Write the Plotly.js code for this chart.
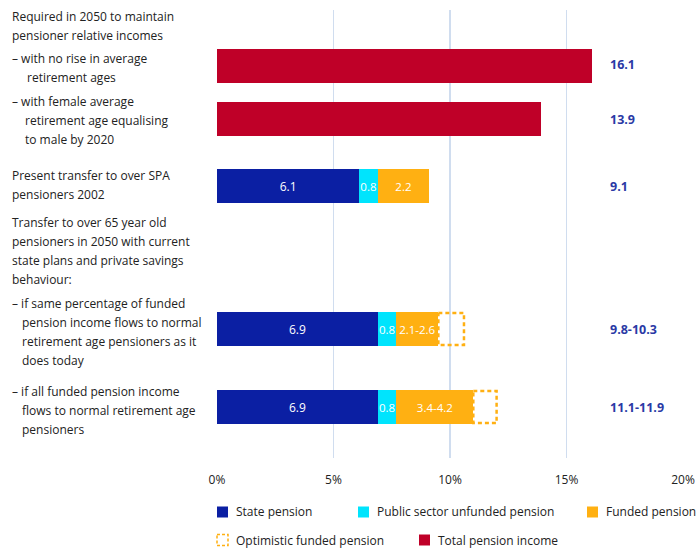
<!DOCTYPE html>
<html>
<head>
<meta charset="utf-8">
<script src="https://cdn.plot.ly/plotly-3.0.1.min.js"></script>
<style>html,body{margin:0;padding:0;background:#fff;}#chart{width:700px;height:551px;}</style>
</head>
<body>
<div id="chart"></div>
<script>
// ---- data ----
const rowLabels = [
  ["– with no rise in average", "retirement ages"],
  ["– with female average", "retirement age equalising", "to male by 2020"],
  ["Present transfer to over SPA", "pensioners 2002"],
  ["– if same percentage of funded", "pension income flows to normal", "retirement age pensioners as it", "does today"],
  ["– if all funded pension income", "flows to normal retirement age", "pensioners"]
];
const headerLabels = [
  ["Required in 2050 to maintain", "pensioner relative incomes"],
  ["Transfer to over 65 year old", "pensioners in 2050 with current", "state plans and private savings", "behaviour:"]
];
const statePension     = [null, null, 6.1, 6.9, 6.9];
const publicUnfunded   = [null, null, 0.8, 0.8, 0.8];
const fundedPension    = [null, null, 2.2, 1.8, 3.3];
const optimisticFunded = [null, null, null, 1.1, 1.0];
const totalIncome      = [16.1, 13.9, null, null, null];
const stateText   = ["", "", "6.1", "6.9", "6.9"];
const publicText  = ["", "", "0.8", "0.8", "0.8"];
const fundedText  = ["", "", "2.2", "2.1-2.6", "3.4-4.2"];
const totalLabels = ["16.1", "13.9", "9.1", "9.8-10.3", "11.1-11.9"];
const xTicks = [0, 5, 10, 15, 20];
const legendNames = ["State pension", "Public sector unfunded pension", "Funded pension", "Optimistic funded pension", "Total pension income"];

// ---- layout helpers ----
const W = 700, H = 551;
const M = {l: 217, r: 17, t: 10, b: 93};
const PW = W - M.l - M.r, PH = H - M.t - M.b;
const rowPos = [65.5, 119, 186, 329, 407];         // vertical centres (y axis in page px units)
const barH = 34;
const colors = {state: "#0b1fa3", pub: "#00e4fd", funded: "#ffb012", total: "#bf0028", value: "#2a39a5", text: "#222222", grid: "#d0ddef"};
const FONT = "Open Sans, Noto Sans, sans-serif";
const px2x = px => (px - M.l) / PW;
const py2y = py => (M.t + PH - py) / PH;

function barTrace(vals, txt, color, name, fs) {
  return {
    type: "bar", orientation: "h", name: name,
    y: rowPos, x: vals, width: barH,
    text: txt, textposition: "inside", insidetextanchor: "middle", textangle: 0,
    constraintext: "none",
    textfont: {color: "#ffffff", size: fs, family: FONT},
    marker: {color: color, line: {width: 0}},
    hoverinfo: "skip", showlegend: false, cliponaxis: false
  };
}

const traces = [
  barTrace(statePension, stateText, colors.state, legendNames[0], 12),
  barTrace(publicUnfunded, publicText, colors.pub, legendNames[1], 11.5),
  barTrace(fundedPension, fundedText, colors.funded, legendNames[2], 11.5),
  barTrace(totalIncome, totalLabels.map(() => ""), colors.total, legendNames[4], 12)
];

// optimistic dashed outline built from data
const ox = [], oy = [];
optimisticFunded.forEach((v, i) => {
  if (v == null) return;
  const b = (statePension[i] || 0) + (publicUnfunded[i] || 0) + (fundedPension[i] || 0);
  const y0 = rowPos[i] - barH / 2 + 1, y1 = rowPos[i] + barH / 2 - 1;
  ox.push(b, b + v, b + v, b, b, null);
  oy.push(y0, y0, y1, y1, y0, null);
});
traces.push({
  type: "scatter", mode: "lines", x: ox, y: oy, name: legendNames[3],
  line: {color: colors.funded, width: 2.5, dash: "4px,3px"},
  hoverinfo: "skip", showlegend: false, cliponaxis: false
});

const annotations = [];
const lineH = 19.3;
function addBlock(lines, topCenter, firstX, contX) {
  lines.forEach((t, k) => {
    annotations.push({
      xref: "paper", yref: "y", x: px2x(k === 0 ? firstX : contX), y: topCenter + k * lineH,
      text: t, showarrow: false, xanchor: "left", yanchor: "middle",
      font: {family: FONT, size: 12, color: colors.text}
    });
  });
}
addBlock(headerLabels[0], 16, 10, 10);
addBlock(headerLabels[1], 222, 10, 10);
const rowIndent = [25, 23, 10, 20, 20];
const rowTop = [58, 101, 175, 303, 391];
rowLabels.forEach((lines, i) => addBlock(lines, rowTop[i], 10, rowIndent[i]));
// totals at right
totalLabels.forEach((t, i) => {
  annotations.push({
    xref: "paper", yref: "y", x: px2x(608), y: rowPos[i] + (i === 0 ? -1 : 0),
    text: "<b>" + t + "</b>", showarrow: false, xanchor: "left", yanchor: "middle",
    font: {family: FONT, size: 12.5, color: colors.value}
  });
});

// manual legend
const shapes = [];
const legendItems = [
  {name: legendNames[0], col: colors.state, sx: 217, y: 512, dashed: false},
  {name: legendNames[1], col: colors.pub, sx: 358, y: 512, dashed: false},
  {name: legendNames[2], col: colors.funded, sx: 587, y: 512, dashed: false},
  {name: legendNames[3], col: colors.funded, sx: 217, y: 540, dashed: true},
  {name: legendNames[4], col: colors.total, sx: 419, y: 540, dashed: false}
];
legendItems.forEach(it => {
  const s = 11;
  shapes.push({
    type: "rect", xref: "paper", yref: "paper",
    x0: px2x(it.sx), x1: px2x(it.sx + s), y0: py2y(it.y - s / 2), y1: py2y(it.y + s / 2),
    fillcolor: it.dashed ? "rgba(0,0,0,0)" : it.col,
    line: it.dashed ? {color: it.col, width: 1.5, dash: "3px,2px"} : {width: 0}
  });
  annotations.push({
    xref: "paper", yref: "paper", x: px2x(it.sx + s + 6), y: py2y(it.y),
    text: it.name, showarrow: false, xanchor: "left", yanchor: "middle",
    font: {family: FONT, size: 12, color: colors.text}
  });
});

const layout = {
  width: W, height: H,
  margin: M,
  paper_bgcolor: "#ffffff", plot_bgcolor: "#ffffff",
  barmode: "stack", bargap: 0,
  showlegend: false, hovermode: false,
  xaxis: {
    range: [0, 20], tickvals: xTicks, ticktext: xTicks.map(v => v + "%"),
    showgrid: true, gridcolor: colors.grid, gridwidth: 1.2, zeroline: false,
    showline: false, ticks: "", ticklabelstandoff: 13,
    tickfont: {family: FONT, size: 12, color: colors.text}, fixedrange: true
  },
  yaxis: {
    range: [M.t + PH, M.t], showgrid: false, zeroline: false, showticklabels: false,
    showline: false, ticks: "", fixedrange: true
  },
  shapes: shapes,
  annotations: annotations,
  font: {family: FONT}
};

Plotly.newPlot("chart", traces, layout, {displayModeBar: false, staticPlot: true});
</script>
</body>
</html>
